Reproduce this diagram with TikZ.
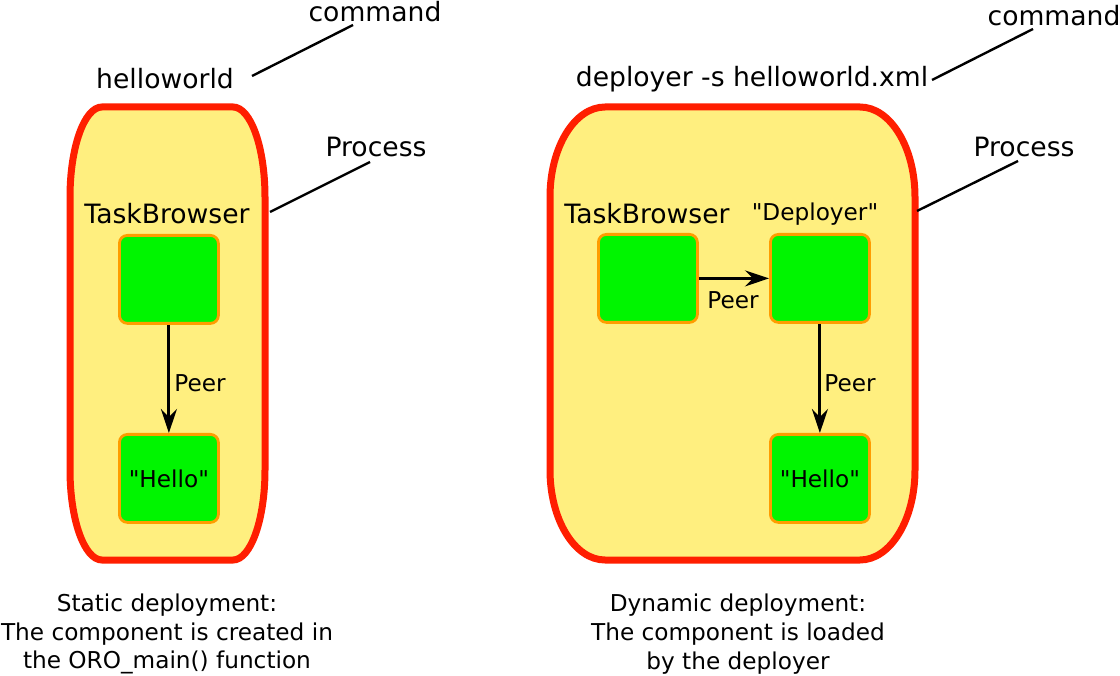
\documentclass[tikz,border=0pt]{standalone}
\usepackage{fontspec}
\setmainfont{DejaVu Sans}[Ligatures=TeXOff]
\usetikzlibrary{arrows.meta}
\definecolor{procfill}{HTML}{FFEF7F}
\definecolor{procline}{HTML}{FF1E00}
\definecolor{compfill}{HTML}{00F500}
\definecolor{compline}{HTML}{FF9C00}
\tikzset{
  big/.style={font=\fontsize{26.6}{31}\selectfont, inner sep=0pt},
  small/.style={font=\fontsize{23.2}{27}\selectfont, inner sep=0pt},
  proc/.style={draw=procline, fill=procfill, line width=7pt},
  comp/.style={draw=compline, fill=compfill, line width=2.8pt, rounded corners=8pt, minimum width=99pt, minimum height=88pt, inner sep=0pt, anchor=north west},
  peer/.style={-{Stealth[length=24pt,width=16pt,inset=8pt]}, line width=3pt},
  lead/.style={line width=2.4pt},
  caption/.style={font=\fontsize{23.2}{28.6}\selectfont, align=center, inner sep=0pt}
}
\begin{document}
\begin{tikzpicture}[x=1pt,y=-1pt]
\useasboundingbox (0,0) rectangle (1120,676);
% left process
\draw[proc] (70,197) arc[start angle=180,end angle=270,x radius=32,y radius=90]
  -- (233,107) arc[start angle=270,end angle=360,x radius=32,y radius=90]
  -- (265,470) arc[start angle=0,end angle=90,x radius=32,y radius=90]
  -- (102,560) arc[start angle=90,end angle=180,x radius=32,y radius=90] -- cycle;
% right process
\draw[proc] (550,197) arc[start angle=180,end angle=270,x radius=55,y radius=90]
  -- (860,107) arc[start angle=270,end angle=360,x radius=55,y radius=90]
  -- (915,470) arc[start angle=0,end angle=90,x radius=55,y radius=90]
  -- (605,560) arc[start angle=90,end angle=180,x radius=55,y radius=90] -- cycle;

% left components
\node[comp] (ltb) at (118,234) {};
\node[comp] (lhe) at (118,433) {};
\node[small] at (lhe.center) {"Hello"};
\node[big] (ltbl) at (167,214) {TaskBrowser};
\draw[peer] (ltb.south) -- (lhe.north);
\node[small] (lpeer) at (200,383) {Peer};

% right components
\node[comp] (rtb) at (597,233) {};
\node[comp] (rdp) at (769,233) {};
\node[comp] (rhe) at (769,433) {};
\node[small] at (rhe.center) {"Hello"};
\node[big] (rtbl) at (647,214) {TaskBrowser};
\node[small] (rdpl) at (815,214) {"Deployer"};
\draw[peer] (rtb.east) -- (rdp.west);
\node[small] (rpeer1) at (733,300) {Peer};
\draw[peer] (rdp.south) -- (rhe.north);
\node[small] (rpeer2) at (850,383) {Peer};

% labels
\node[big] (lcmd) at (165,79) {helloworld};
\node[big] (lcmdl) at (375,12) {command};
\node[big] (lprl) at (376,147) {Process};
\coordinate (lc1) at (252,76);
\coordinate (lc2) at (353,25);
\coordinate (lp1) at (270,212);
\coordinate (lp2) at (370,162);
\draw[lead] (lc1) -- (lc2);
\draw[lead] (lp1) -- (lp2);

\node[big] (rcmd) at (752,79) {deployer -s helloworld.xml};
\node[big] (rcmdl) at (1054,16) {command};
\node[big] (rprl) at (1024,147) {Process};
\coordinate (rc1) at (932,80);
\coordinate (rc2) at (1033,29);
\coordinate (rp1) at (917,211);
\coordinate (rp2) at (1018,161);
\draw[lead] (rc1) -- (rc2);
\draw[lead] (rp1) -- (rp2);

% captions
\node[caption] (lcap) at (167,634) {Static deployment:\\The component is created in\\the ORO\_main() function};
\node[caption] (rcap) at (738,634) {Dynamic deployment:\\The component is loaded\\by the deployer};
\end{tikzpicture}
\end{document}
